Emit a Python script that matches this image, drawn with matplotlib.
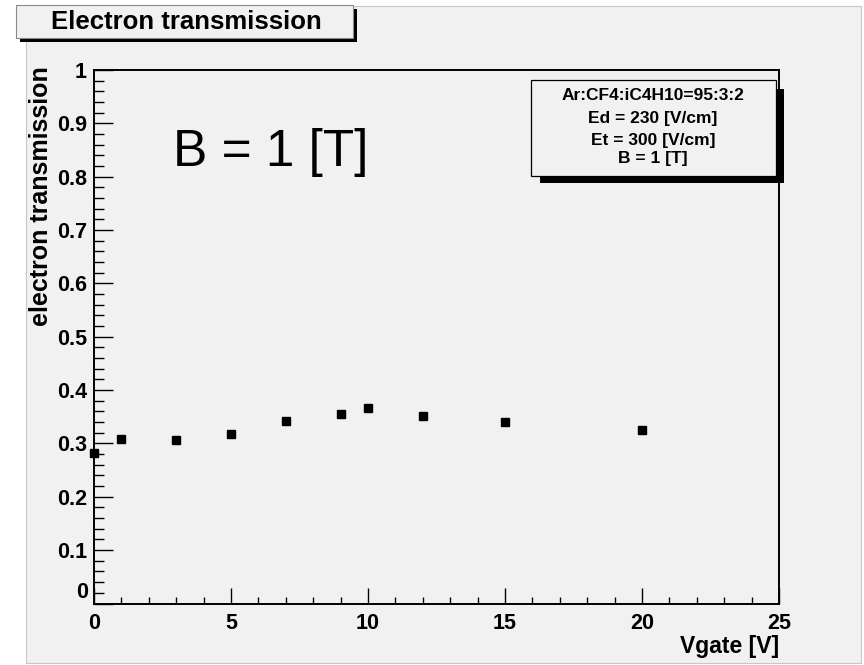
import matplotlib
matplotlib.use("Agg")
import matplotlib.pyplot as plt
from matplotlib.patches import Rectangle
from matplotlib.ticker import MultipleLocator

# Data
vgate = [0, 1, 3, 5, 7, 9, 10, 12, 15, 20]
transmission = [0.283, 0.309, 0.306, 0.318, 0.343, 0.355, 0.366, 0.351, 0.340, 0.326]

title = "Electron transmission"
info_lines = ["Ar:CF4:iC4H10=95:3:2", "Ed = 230 [V/cm]", "Et = 300 [V/cm]", "B = 1 [T]"]

plt.rcParams["font.family"] = ["Liberation Sans", "DejaVu Sans"]
BG = "#f1f1f1"
W, H = 864, 665

fig = plt.figure(figsize=(8.64, 6.65), dpi=100, facecolor="white")


def px_rect(x0, y0, x1, y1, **kw):
    # rectangle in pixel coords (origin top-left)
    r = Rectangle((x0 / W, 1 - y1 / H), (x1 - x0) / W, (y1 - y0) / H,
                  transform=fig.transFigure, **kw)
    fig.patches.append(r)
    return r


# canvas
px_rect(26, 6, 861, 663, facecolor=BG, edgecolor="#c8c8c8", linewidth=0.8, zorder=-2)

# title box with shadow
px_rect(20, 9, 357, 42, facecolor="black", edgecolor="none", zorder=1)
px_rect(16, 5, 353, 38, facecolor=BG, edgecolor="#8a8a8a", linewidth=0.8, zorder=2)
fig.text(186 / W, 1 - 22 / H, title, ha="center", va="center",
         fontsize=18.5, fontweight="bold", zorder=3)

ax = fig.add_axes([94 / W, 1 - 603.5 / H, 685 / W, 533.5 / H])
ax.set_zorder(0.5)
ax.set_facecolor(BG)
ax.plot(vgate, transmission, "s", color="black", markersize=5.5, clip_on=False, zorder=5)

ax.set_xlim(0, 25)
ax.set_ylim(0, 1)
ax.xaxis.set_major_locator(MultipleLocator(5))
ax.xaxis.set_minor_locator(MultipleLocator(1))
ax.yaxis.set_major_locator(MultipleLocator(0.1))
ax.yaxis.set_minor_locator(MultipleLocator(0.02))
# ROOT lifts the y "0" off the corner; drawn separately below
ax.yaxis.set_major_formatter(plt.FuncFormatter(lambda v, p: "" if abs(v) < 1e-9 else f"{v:g}"))
ax.xaxis.set_major_formatter(plt.FuncFormatter(lambda v, p: f"{v:g}"))

for s in ax.spines.values():
    s.set_linewidth(1.4)
ax.tick_params(axis="both", which="both", direction="in", top=False, right=False,
               labelsize=15.5, width=1.0)
ax.tick_params(axis="x", which="major", length=11.5, pad=7)
ax.tick_params(axis="x", which="minor", length=5)
ax.tick_params(axis="y", which="major", length=14, pad=5)
ax.tick_params(axis="y", which="minor", length=7)
for lab in ax.get_xticklabels() + ax.get_yticklabels():
    lab.set_fontweight("bold")

fig.text(88 / W, 1 - 593 / H, "0", ha="right", va="center",
         fontsize=15.5, fontweight="bold")

fig.text(779 / W, 1 - 646 / H, "Vgate [V]", ha="right", va="center",
         fontsize=16.5, fontweight="bold")
fig.text(41.5 / W, 1 - 66 / H, "electron transmission", ha="center", va="top",
         rotation=90, fontsize=18, fontweight="bold")

# big annotation
ax.text(173 / W, 1 - 166 / H, "B = 1 [T]", transform=fig.transFigure,
        ha="left", va="baseline", fontsize=37)

# info box with shadow
px_rect(540, 89, 784, 183, facecolor="black", edgecolor="none", zorder=6)
px_rect(531, 80, 776, 176, facecolor=BG, edgecolor="black", linewidth=0.9, zorder=7)
for line, y in zip(info_lines, [95, 118, 141, 159]):
    fig.text(653 / W, 1 - y / H, line, ha="center", va="center",
             fontsize=12.5, fontweight="bold", zorder=8)

fig.savefig("out.png", dpi=100, facecolor="white")
